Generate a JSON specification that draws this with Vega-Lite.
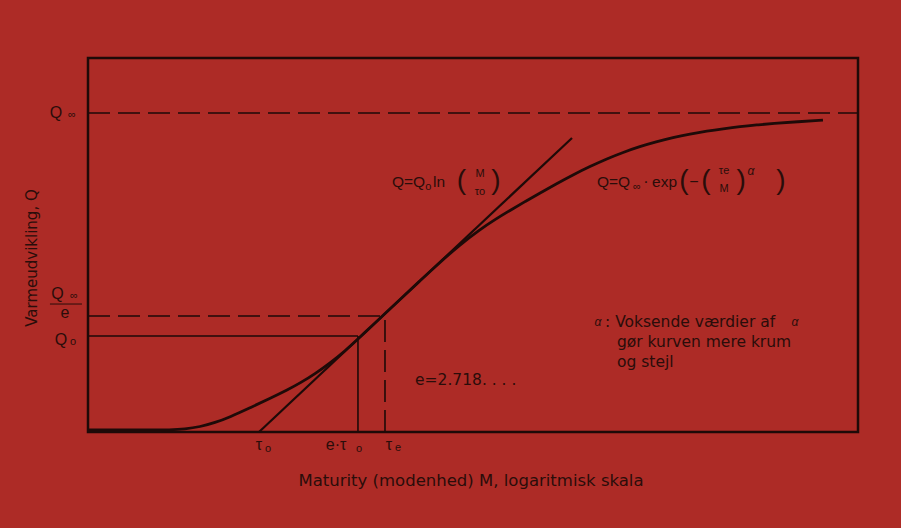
{
  "$schema": "https://vega.github.io/schema/vega-lite/v6.json",
  "width": 770,
  "height": 374,
  "autosize": "none",
  "padding": {"left": 88, "top": 58, "right": 43, "bottom": 96},
  "background": "#ad2b26",
  "config": {
    "view": {"stroke": "#1e0a08", "strokeWidth": 2.5},
    "text": {"font": "Liberation Sans", "color": "#2a0d0a"}
  },
  "datasets": {
    "curve": [
      {"x": 0, "y": 0.53}, {"x": 4.16, "y": 0.53}, {"x": 8.05, "y": 0.53}, {"x": 10.65, "y": 0.56},
      {"x": 12.6, "y": 0.78}, {"x": 14.55, "y": 1.39}, {"x": 16.49, "y": 2.49}, {"x": 18.44, "y": 4.01},
      {"x": 21.04, "y": 6.47}, {"x": 23.64, "y": 8.98}, {"x": 25.97, "y": 11.34}, {"x": 27.53, "y": 13.07},
      {"x": 29.48, "y": 15.56}, {"x": 31.43, "y": 18.45}, {"x": 33.38, "y": 21.68}, {"x": 35.06, "y": 24.87},
      {"x": 36.88, "y": 28.4}, {"x": 38.57, "y": 31.66}, {"x": 40.52, "y": 35.43}, {"x": 43.12, "y": 40.45},
      {"x": 45.71, "y": 45.37}, {"x": 48.31, "y": 50.08}, {"x": 50.91, "y": 54.14}, {"x": 52.86, "y": 56.82},
      {"x": 54.81, "y": 59.25}, {"x": 56.75, "y": 61.6}, {"x": 58.7, "y": 63.9}, {"x": 60.78, "y": 66.31},
      {"x": 62.99, "y": 68.77}, {"x": 65.19, "y": 70.99}, {"x": 67.4, "y": 73.07}, {"x": 69.48, "y": 74.76},
      {"x": 71.69, "y": 76.34}, {"x": 73.77, "y": 77.57}, {"x": 75.97, "y": 78.72}, {"x": 78.18, "y": 79.65},
      {"x": 80.39, "y": 80.45}, {"x": 82.47, "y": 81.07}, {"x": 84.68, "y": 81.66}, {"x": 86.88, "y": 82.11},
      {"x": 88.96, "y": 82.49}, {"x": 92.21, "y": 82.97}, {"x": 95.45, "y": 83.37}
    ],
    "tangent": [{"x": 22.21, "y": 0}, {"x": 62.86, "y": 78.61}],
    "solidRules": [
      {"x": 0, "x2": 35.06, "y": 25.67, "y2": 25.67},
      {"x": 35.06, "x2": 35.06, "y": 0, "y2": 25.67}
    ],
    "dashedRules": [
      {"x": 0, "x2": 100, "y": 85.29, "y2": 85.29},
      {"x": 0, "x2": 38.57, "y": 31.02, "y2": 31.02},
      {"x": 38.57, "x2": 38.57, "y": 0, "y2": 31.02}
    ],
    "fractionBars": [
      {"x": -4.94, "x2": -0.78, "y": 34.22}
    ],
    "labelText": [
      {"x": -4.16, "y": 85.29, "t": "Q"},
      {"x": -3.96, "y": 36.9, "t": "Q"},
      {"x": -2.99, "y": 31.82, "t": "e"},
      {"x": -3.51, "y": 24.6, "t": "Q"},
      {"x": 22.21, "y": -3.48, "t": "τ"},
      {"x": 32.21, "y": -3.48, "t": "e·τ"},
      {"x": 39.09, "y": -3.48, "t": "τ"},
      {"x": 72.47, "y": 66.84, "t": "·"},
      {"x": 78.7, "y": 66.84, "t": "−"}
    ],
    "formulaText": [
      {"x": 39.48, "y": 66.84, "t": "Q=Q"},
      {"x": 44.81, "y": 66.84, "t": "ln"},
      {"x": 66.1, "y": 66.84, "t": "Q=Q"},
      {"x": 73.25, "y": 66.84, "t": "exp"}
    ],
    "smallText": [
      {"x": -2.08, "y": 84.76, "t": "∞"},
      {"x": -1.82, "y": 36.36, "t": "∞"},
      {"x": -1.95, "y": 24.06, "t": "o"},
      {"x": 23.38, "y": -4.55, "t": "o"},
      {"x": 35.19, "y": -4.55, "t": "o"},
      {"x": 40.26, "y": -4.28, "t": "e"},
      {"x": 44.2, "y": 65.51, "t": "o"},
      {"x": 71.3, "y": 65.51, "t": "∞"},
      {"x": 50.91, "y": 68.98, "t": "M"},
      {"x": 50.91, "y": 64.17, "t": "τo"},
      {"x": 82.6, "y": 69.79, "t": "τe"},
      {"x": 82.6, "y": 64.97, "t": "M"}
    ],
    "parens": [
      {"x": 48.5, "y": 67.2, "t": "("},
      {"x": 52.99, "y": 67.2, "t": ")"},
      {"x": 77.4, "y": 67.2, "t": "("},
      {"x": 80.26, "y": 67.2, "t": "("},
      {"x": 84.81, "y": 67.2, "t": ")"},
      {"x": 90.0, "y": 67.2, "t": ")"}
    ],
    "alphaText": [
      {"x": 66.23, "y": 29.41, "t": "α"},
      {"x": 91.82, "y": 29.41, "t": "α"},
      {"x": 86.1, "y": 69.79, "t": "α"}
    ],
    "noteText": [
      {"x": 67.14, "y": 29.41, "t": ": Voksende værdier af"},
      {"x": 68.7, "y": 24.06, "t": "gør kurven mere krum"},
      {"x": 68.7, "y": 18.72, "t": "og stejl"},
      {"x": 42.47, "y": 13.9, "t": "e=2.718. . . ."}
    ],
    "xTitle": [
      {"x": 49.74, "y": -13.1, "t": "Maturity (modenhed) M, logaritmisk skala"}
    ],
    "yTitle": [
      {"x": -7.27, "y": 46.52, "t": "Varmeudvikling, Q"}
    ]
  },
  "encoding": {
    "x": {"field": "x", "type": "quantitative", "scale": {"domain": [0, 100], "nice": false, "zero": false}, "axis": null},
    "y": {"field": "y", "type": "quantitative", "scale": {"domain": [0, 100], "nice": false, "zero": false}, "axis": null}
  },
  "layer": [
    {"data": {"name": "dashedRules"}, "mark": {"type": "rule", "color": "#1e0a08", "strokeWidth": 1.6, "strokeDash": [22, 8]},
     "encoding": {"x2": {"field": "x2"}, "y2": {"field": "y2"}}},
    {"data": {"name": "solidRules"}, "mark": {"type": "rule", "color": "#1e0a08", "strokeWidth": 1.6},
     "encoding": {"x2": {"field": "x2"}, "y2": {"field": "y2"}}},
    {"data": {"name": "fractionBars"}, "mark": {"type": "rule", "color": "#2a0d0a", "strokeWidth": 1},
     "encoding": {"x2": {"field": "x2"}}},
    {"data": {"name": "tangent"}, "mark": {"type": "line", "color": "#1e0a08", "strokeWidth": 2.2}},
    {"data": {"name": "curve"}, "mark": {"type": "line", "color": "#1e0a08", "strokeWidth": 2.8, "interpolate": "basis"}},
    {"data": {"name": "labelText"}, "mark": {"type": "text", "fontSize": 16, "align": "center", "baseline": "middle"},
     "encoding": {"text": {"field": "t"}}},
    {"data": {"name": "formulaText"}, "mark": {"type": "text", "fontSize": 15.5, "align": "left", "baseline": "middle"},
     "encoding": {"text": {"field": "t"}}},
    {"data": {"name": "smallText"}, "mark": {"type": "text", "fontSize": 11, "align": "center", "baseline": "middle"},
     "encoding": {"text": {"field": "t"}}},
    {"data": {"name": "parens"}, "mark": {"type": "text", "fontSize": 28, "align": "center", "baseline": "middle"},
     "encoding": {"text": {"field": "t"}}},
    {"data": {"name": "alphaText"}, "mark": {"type": "text", "fontSize": 12, "fontStyle": "italic", "align": "center", "baseline": "middle"},
     "encoding": {"text": {"field": "t"}}},
    {"data": {"name": "noteText"}, "mark": {"type": "text", "font": "DejaVu Sans", "fontSize": 15.5, "align": "left", "baseline": "middle"},
     "encoding": {"text": {"field": "t"}}},
    {"data": {"name": "xTitle"}, "mark": {"type": "text", "font": "DejaVu Sans", "fontSize": 16.5, "align": "center", "baseline": "middle"},
     "encoding": {"text": {"field": "t"}}},
    {"data": {"name": "yTitle"}, "mark": {"type": "text", "font": "DejaVu Sans", "fontSize": 15, "angle": 270, "align": "center", "baseline": "middle"},
     "encoding": {"text": {"field": "t"}}}
  ]
}
